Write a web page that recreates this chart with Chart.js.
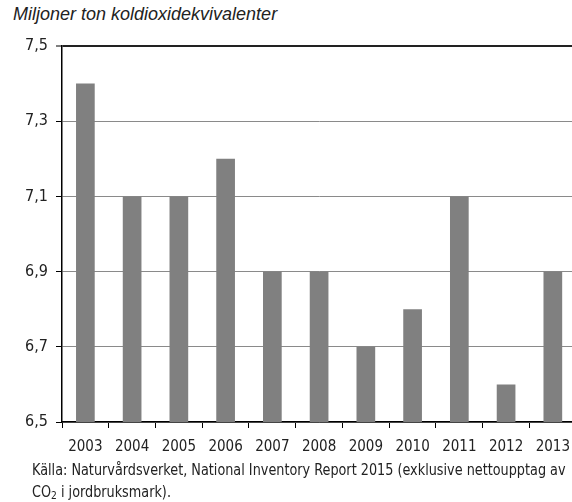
<!DOCTYPE html>
<html>
<head>
<meta charset="utf-8">
<script src="https://cdn.jsdelivr.net/npm/chart.js@4/dist/chart.umd.min.js"></script>
<style>
  html, body { margin: 0; padding: 0; background: #fff; overflow: hidden; }
  body { width: 572px; height: 502px; position: relative; }
  #wrap { position: absolute; left: 0; top: 0; width: 580px; height: 502px; }
  .txt { position: absolute; color: #222; white-space: nowrap; }
  #title { left: 13px; top: 4px; font-family: 'Liberation Sans', Arial, sans-serif; font-size: 18px; font-style: italic; }
  #note { left: 32px; top: 459px; font-family: 'DejaVu Sans Condensed', sans-serif; font-size: 15.5px; line-height: 22px; transform: scaleX(0.92); transform-origin: 0 0; }
</style>
</head>
<body>
<div id="title" class="txt">Miljoner ton koldioxidekvivalenter</div>
<div id="wrap"><canvas id="chart" width="580" height="502"></canvas></div>
<div id="note" class="txt">Källa: Naturvårdsverket, National Inventory Report 2015 (exklusive nettoupptag av<br>CO<sub style="font-size:11px;vertical-align:-2px">2</sub> i jordbruksmark).</div>
<script>
var years = ['2003', '2004', '2005', '2006', '2007', '2008', '2009', '2010', '2011', '2012', '2013'];
var emissions = [7.4, 7.1, 7.1, 7.2, 6.9, 6.9, 6.7, 6.8, 7.1, 6.6, 6.9];
var yMin = 6.5;
var yMax = 7.5;
var yStep = 0.2;

var fontFamily = "'DejaVu Sans Condensed', sans-serif";

var ctx = document.getElementById('chart').getContext('2d');
new Chart(ctx, {
    type: 'bar',
    data: {
        labels: years,
        datasets: [{
            data: emissions,
            backgroundColor: '#808080',
            borderWidth: 0,
            barPercentage: 0.4,
            categoryPercentage: 1.0
        }]
    },
    options: {
        responsive: false,
        animation: false,
        layout: { padding: { top: 46, left: 0, right: 0, bottom: 0 } },
        plugins: {
            legend: { display: false },
            tooltip: { enabled: false }
        },
        scales: {
            x: {
                offset: true,
                grid: {
                    offset: true,
                    drawOnChartArea: false,
                    drawTicks: true,
                    tickLength: 6,
                    tickColor: '#000',
                    tickWidth: 1
                },
                border: { color: '#000', width: 1.5 },
                ticks: {
                    color: '#222',
                    padding: 10,
                    font: { family: fontFamily, size: 15 }
                },
                afterFit: function(scale) { scale.height = 80; }
            },
            y: {
                min: yMin,
                max: yMax,
                grid: {
                    color: function(c) { return c.tick && Math.abs(c.tick.value - yMax) < 1e-6 ? '#222' : '#8a8a8a'; },
                    lineWidth: function(c) { return c.tick && Math.abs(c.tick.value - yMax) < 1e-6 ? 2 : 1; },
                    drawTicks: true,
                    tickLength: 6,
                    tickColor: '#000',
                    tickWidth: 1
                },
                border: { color: '#000', width: 1.5 },
                ticks: {
                    stepSize: yStep,
                    color: '#222',
                    padding: 8,
                    font: { family: fontFamily, size: 16 },
                    callback: function(v) { return v.toFixed(1).replace('.', ','); }
                },
                afterFit: function(scale) { scale.width = 62; }
            }
        }
    }
});
</script>
</body>
</html>
